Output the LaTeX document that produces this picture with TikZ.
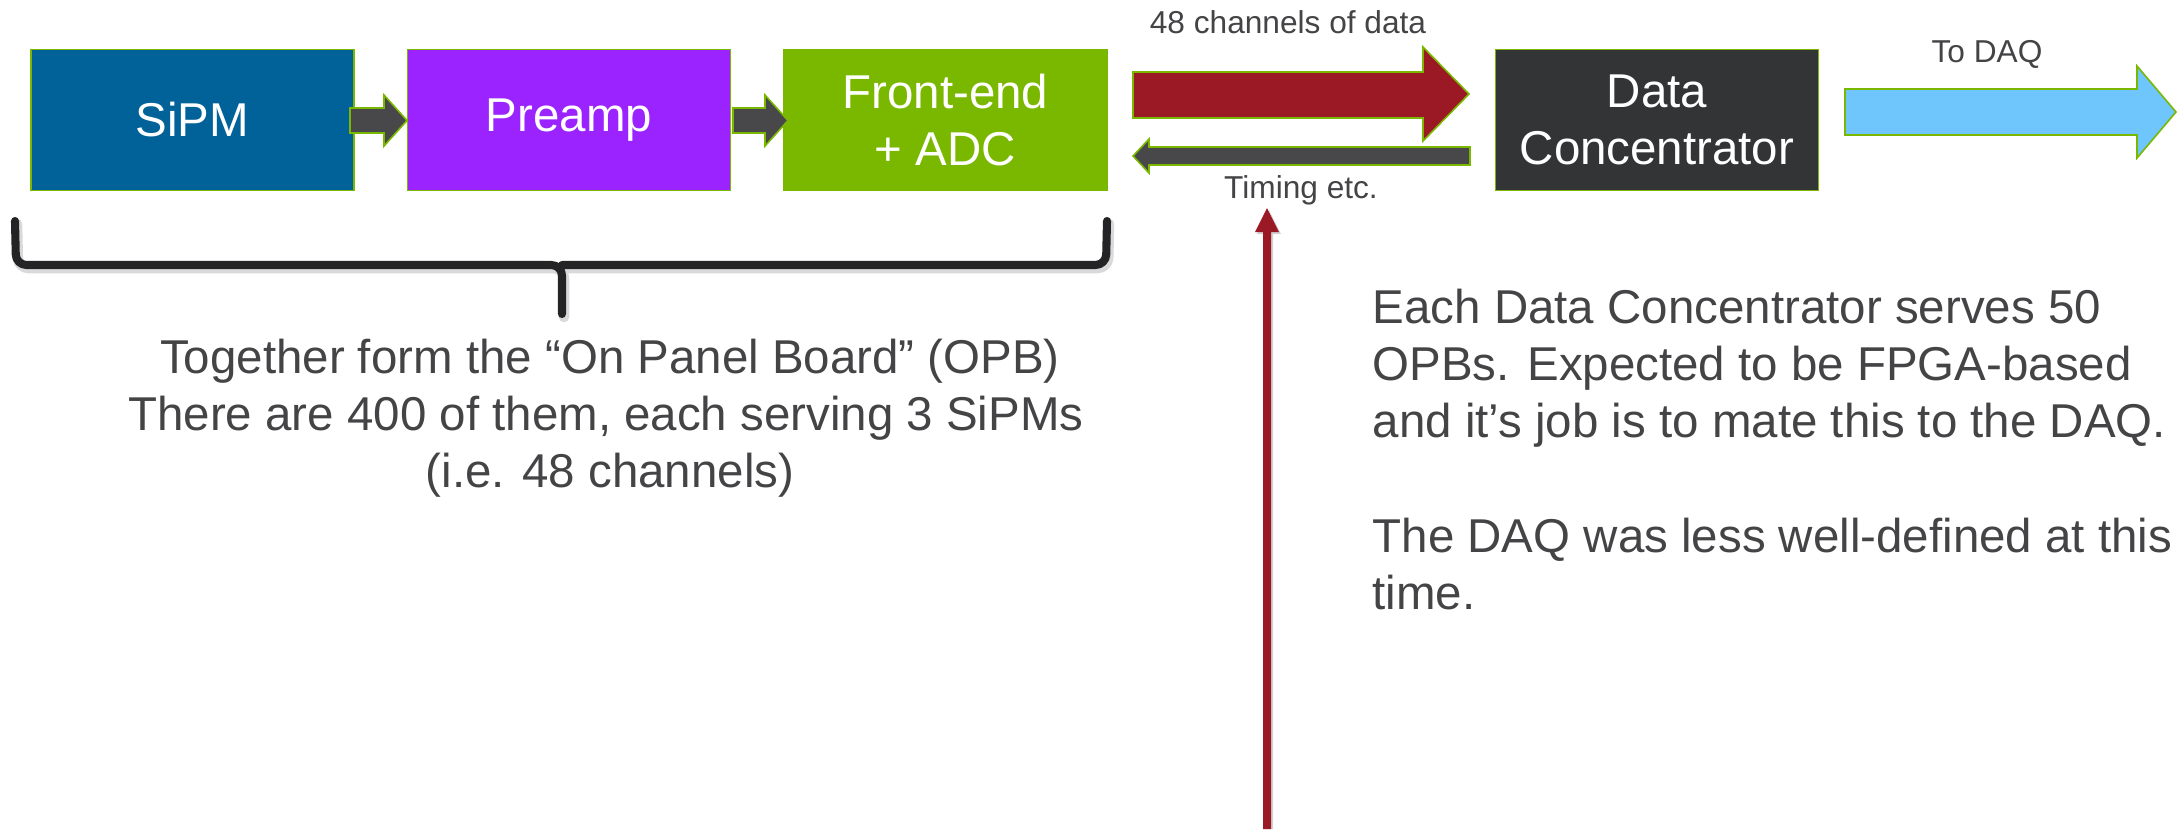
\documentclass[tikz,border=0pt]{standalone}
\usepackage{fontspec}
\setmainfont{Liberation Sans}
\usetikzlibrary{calc}
\definecolor{grn}{RGB}{122,184,0}
\definecolor{sipmblue}{RGB}{0,98,152}
\definecolor{previo}{RGB}{155,35,255}
\definecolor{dcgray}{RGB}{51,52,54}
\definecolor{arrgray}{RGB}{72,72,74}
\definecolor{arrred}{RGB}{155,25,36}
\definecolor{arrblue}{RGB}{110,198,252}
\definecolor{txt}{RGB}{68,68,70}
\definecolor{brk}{RGB}{36,36,38}
\begin{document}
\begin{tikzpicture}[x=0.01cm,y=-0.01cm,
  blk/.style={draw=grn, line width=0.45pt, minimum width=3.23cm, minimum height=1.41cm, inner sep=0pt, text=white, align=center, font=\fontsize{13.5}{16.3}\selectfont},
  barrow/.style={draw=grn, line width=0.45pt, line join=miter},
  big/.style={text=txt, font=\fontsize{13.5}{16.3}\selectfont, inner sep=0pt},
  small/.style={text=txt, font=\fontsize{9}{11}\selectfont, inner sep=0pt},
  brace/.style={draw=brk, line width=2.3pt, line cap=round, line join=round, rounded corners=3pt}]
\useasboundingbox (0,0) rectangle (2177,829);
% boxes
\node[blk, fill=sipmblue] (sipm) at (192.5,120) {SiPM};
\node[blk, fill=previo] (pre) at (569,120) {Preamp};
\node[blk, fill=grn] (fe) at (945.5,120) {Front-end\\+ ADC};
\node[blk, fill=dcgray] (dc) at (1657,120) {Data\\Concentrator};
% small block arrows
\draw[barrow, fill=arrgray] (350,108) -- (384,108) -- (384,95) -- (407,120.5) -- (384,146) -- (384,133) -- (350,133) -- cycle;
\draw[barrow, fill=arrgray] (733,108) -- (765,108) -- (765,95) -- (788,120.5) -- (765,146) -- (765,133) -- (733,133) -- cycle;
% data arrow
\draw[barrow, fill=arrred] (1133,72) -- (1423,72) -- (1423,47) -- (1469,94) -- (1423,141) -- (1423,118) -- (1133,118) -- cycle;
% timing arrow
\draw[barrow, fill=arrgray] (1470,147) -- (1149,147) -- (1149,139) -- (1133,156) -- (1149,173) -- (1149,165) -- (1470,165) -- cycle;
% to DAQ arrow
\draw[barrow, fill=arrblue] (1845,89) -- (2137,89) -- (2137,66) -- (2176,112) -- (2137,158) -- (2137,135) -- (1845,135) -- cycle;
% vertical arrow
\coordinate (vbot) at (1267,829);
\fill[black!18] (1265,829) -- (1265,234) -- (1257,234) -- (1269,210) -- (1281,234) -- (1273,234) -- (1273,829) -- cycle;
\fill[arrred] (1263,829) -- (1263,232) -- (1255,232) -- (1267,208) -- (1279,232) -- (1271,232) -- (1271,829) -- cycle;
% labels
\node[small, anchor=base] (l48) at (1288,33) {48 channels of data};
\node[small, anchor=base] (ltim) at (1301,198) {Timing etc.};
\node[small, anchor=base] (ldaq) at (1987,62) {To DAQ};
% brace
\draw[brace, draw=black!15, line width=3pt] (17,224) -- (18,268) -- (564,268) -- (564,317);
\draw[brace, draw=black!15, line width=3pt] (1109,224) -- (1108,268) -- (564,268);
\draw[brace] (15,221) -- (16,265) -- (562,265) -- (562,314);
\draw[brace] (1107,221) -- (1106,265) -- (562,265);
% left text
\node[big, anchor=base] (t1) at (610,373) {Together form the “On Panel Board” (OPB)};
\node[big, anchor=base] (t2) at (606,430) {There are 400 of them, each serving 3 SiPMs};
\node[big, anchor=base] (t3) at (610,487) {(i.e. 48 channels)};
% right text
\node[big, anchor=base west] (r1) at (1372,323) {Each Data Concentrator serves 50};
\node[big, anchor=base west] (r2) at (1372,380) {OPBs. Expected to be FPGA-based};
\node[big, anchor=base west] (r3) at (1372,437) {and it’s job is to mate this to the DAQ.};
\node[big, anchor=base west] (r4) at (1372,552) {The DAQ was less well-defined at this};
\node[big, anchor=base west] (r5) at (1372,609) {time.};
\end{tikzpicture}
\end{document}
